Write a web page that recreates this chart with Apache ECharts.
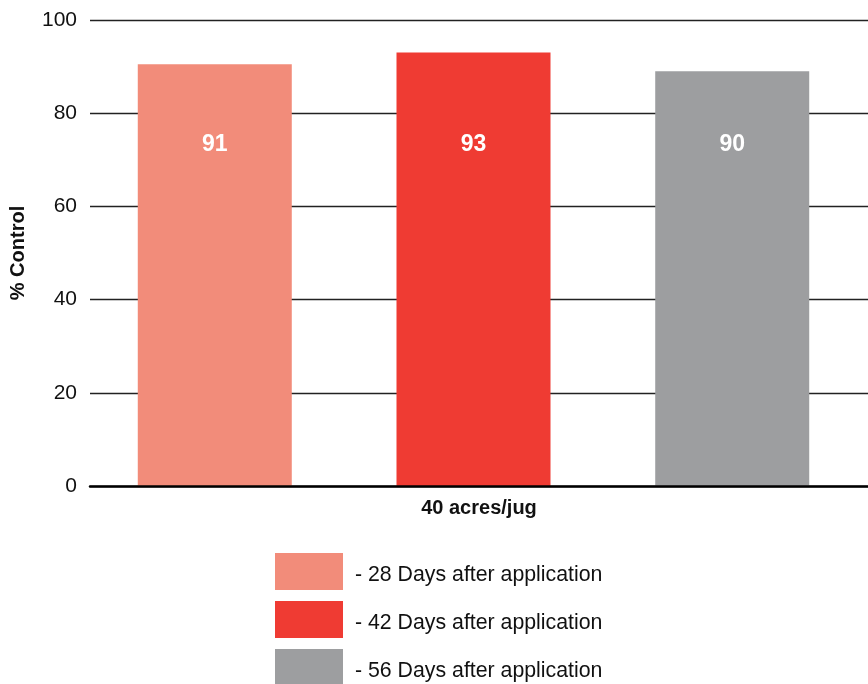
<!DOCTYPE html>
<html>
<head>
<meta charset="utf-8">
<script src="https://cdn.jsdelivr.net/npm/echarts@6/dist/echarts.min.js"></script>
<style>
html,body{margin:0;padding:0;background:#fff;}
#chart{width:868px;height:684px;}
</style>
</head>
<body>
<div id="chart"></div>
<script>
var categories = ['40 acres/jug'];
var seriesNames = ['28 Days after application', '42 Days after application', '56 Days after application'];
var seriesValues = [90.5, 93, 89];
var valueLabels = ['91', '93', '90'];
var seriesColors = ['#F28C7A', '#EF3B33', '#9D9EA0'];
var yTicks = [0, 20, 40, 60, 80, 100];

var FONT = '"Liberation Sans", Arial, Helvetica, sans-serif';

var series = seriesNames.map(function (name, i) {
  return {
    name: name,
    type: 'bar',
    xAxisIndex: 1,
    yAxisIndex: 1,
    data: [seriesValues[i]],
    barWidth: 154,
    barGap: '68%',
    itemStyle: { color: seriesColors[i] },
    label: {
      show: true,
      position: 'insideBottom',
      distance: 329,
      formatter: function () { return valueLabels[i]; },
      color: '#ffffff',
      fontFamily: FONT,
      fontWeight: 'bold',
      fontSize: 23,
      lineHeight: 24
    },
    emphasis: { disabled: true }
  };
});

var chart = echarts.init(document.getElementById('chart'), null, { renderer: 'canvas' });
chart.setOption({
  animation: false,
  backgroundColor: '#ffffff',
  grid: [
    { left: 88, right: 0, top: 20, bottom: 198, containLabel: false },
    { left: 88, right: 9, top: 20, bottom: 198, containLabel: false }
  ],
  legend: {
    orient: 'vertical',
    left: 275,
    top: 553,
    height: 140,
    padding: 0,
    itemWidth: 68,
    itemHeight: 37,
    itemGap: 11,
    icon: 'rect',
    selectedMode: false,
    formatter: function (n) { return '{t|- ' + n + '}'; },
    textStyle: {
      fontFamily: FONT, fontSize: 21.3, color: '#111', padding: [0, 0, 0, 7],
      rich: { t: { fontFamily: FONT, fontSize: 21.3, color: '#111', padding: [8, 0, 0, 0] } }
    },
    data: seriesNames
  },
  xAxis: [
    {
      type: 'category',
      gridIndex: 0,
      data: categories,
      z: 5,
      axisLine: { show: true, lineStyle: { color: '#000', width: 2.5 } },
      axisTick: { show: false },
      axisLabel: {
        margin: 12,
        fontFamily: FONT,
        fontWeight: 'bold',
        fontSize: 20,
        color: '#111'
      }
    },
    {
      type: 'category',
      gridIndex: 1,
      data: categories,
      show: false
    }
  ],
  yAxis: [
    {
      type: 'value',
      gridIndex: 0,
      min: yTicks[0],
      max: yTicks[yTicks.length - 1],
      interval: 20,
      name: '% Control',
      nameLocation: 'middle',
      nameGap: 62,
      nameTextStyle: { fontFamily: FONT, fontWeight: 'bold', fontSize: 20, color: '#111' },
      axisLine: { show: false },
      axisTick: { show: false },
      axisLabel: { margin: 13, fontFamily: FONT, fontSize: 21, color: '#111' },
      splitLine: { show: true, lineStyle: { color: '#222', width: 1.3 } }
    },
    {
      type: 'value',
      gridIndex: 1,
      min: yTicks[0],
      max: yTicks[yTicks.length - 1],
      interval: 20,
      show: false,
      splitLine: { show: false }
    }
  ],
  series: series
});
</script>
</body>
</html>
